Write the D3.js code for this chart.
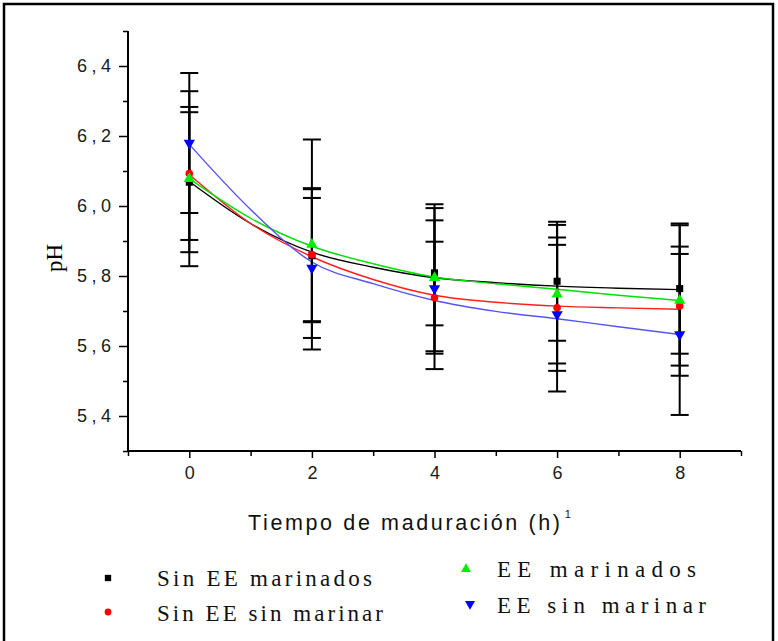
<!DOCTYPE html>
<html>
<head>
<meta charset="utf-8">
<script src="https://cdn.jsdelivr.net/npm/d3@7"></script>
<style>
  body { margin: 0; background: #fff; }
  svg { display: block; }
</style>
</head>
<body>
<svg class="chart"></svg>
<script>
// sampling times (h)
const TIMES = [0, 2, 4, 6, 8];
const X_TICKS = [0, 2, 4, 6, 8];
const Y_TICKS = [5.4, 5.6, 5.8, 6.0, 6.2, 6.4];
const Y_TICK_LABELS = ["5,4", "5,6", "5,8", "6,0", "6,2", "6,4"];

const SERIES_NAMES = ["Sin EE marinados", "Sin EE sin marinar", "EE marinados", "EE sin marinar"];

// means and standard deviations of pH
const meanSinEEMar = [6.068, 5.858, 5.809, 5.785, 5.764];
const sdSinEEMar = [0.200, 0.190, 0.150, 0.170, 0.186];
const meanSinEESin = [6.093, 5.861, 5.738, 5.709, 5.714];
const sdSinEESin = [0.190, 0.190, 0.160, 0.180, 0.170];
const meanEEMar = [6.078, 5.890, 5.795, 5.748, 5.730];
const sdEEMar = [0.250, 0.300, 0.210, 0.198, 0.215];
const meanEESin = [6.180, 5.823, 5.764, 5.690, 5.633];
const sdEESin = [0.200, 0.200, 0.230, 0.220, 0.230];

// fitted curves at each hour
const FIT_TIMES = [0, 1, 2, 3, 4, 5, 6, 7, 8];
const fitSinEEMar = [6.070, 5.950, 5.868, 5.825, 5.795, 5.781, 5.771, 5.765, 5.761];
const fitSinEESin = [6.090, 5.950, 5.855, 5.790, 5.745, 5.725, 5.714, 5.709, 5.705];
const fitEEMar = [6.078, 5.965, 5.885, 5.835, 5.797, 5.778, 5.762, 5.745, 5.730];
const fitEESin = [6.176, 5.990, 5.840, 5.778, 5.730, 5.699, 5.678, 5.655, 5.633];

const WIDTH = 778, HEIGHT = 641;

const svg = d3.select('.chart')
    .attr('width', WIDTH)
    .attr('height', HEIGHT);

svg.append('rect')
    .attr('x', 4).attr('y', 4)
    .attr('width', 769).attr('height', 660)
    .attr('fill', '#fff')
    .attr('stroke', '#000')
    .attr('stroke-width', 2.5);

var x = d3.scaleLinear().domain([-1, 9]).range([128, 741]);
var y = d3.scaleLinear().domain([5.3, 6.5]).range([451, 31]);

const series = [
    {name: SERIES_NAMES[0], mean: meanSinEEMar, sd: sdSinEEMar, fit: fitSinEEMar, color: '#000000', line: '#000000', sym: d3.symbolSquare, size: 50},
    {name: SERIES_NAMES[1], mean: meanSinEESin, sd: sdSinEESin, fit: fitSinEESin, color: '#ff0000', line: '#ff2020', sym: d3.symbolCircle, size: 45},
    {name: SERIES_NAMES[2], mean: meanEEMar, sd: sdEEMar, fit: fitEEMar, color: '#00ee00', line: '#00e000', sym: d3.symbolTriangle, size: 55},
    {name: SERIES_NAMES[3], mean: meanEESin, sd: sdEESin, fit: fitEESin, color: '#0000ff', line: '#5555ee', sym: d3.symbolTriangle, size: 55, flip: true}
];

// axes
var yMinor = d3.range(5.3, 6.55, 0.2).map(d => +d.toFixed(1));
svg.append('g')
    .attr('transform', 'translate(128,0)')
    .call(d3.axisLeft(y).tickValues(yMinor).tickSize(5).tickFormat(''))
    .call(g => g.select('.domain').remove())
    .selectAll('line').attr('stroke-width', 1.5);

var yAxis = svg.append('g')
    .attr('transform', 'translate(128,0)')
    .call(d3.axisLeft(y).tickValues(Y_TICKS).tickSize(9).tickPadding(8)
        .tickFormat((d, i) => Y_TICK_LABELS[i]));
yAxis.select('.domain').attr('d', 'M0,' + y(5.3) + 'V' + y(6.5)).attr('stroke-width', 2);
yAxis.selectAll('line').attr('stroke-width', 1.5);
yAxis.selectAll('text')
    .attr('font-family', 'Liberation Sans, Arial, sans-serif')
    .attr('font-size', 18)
    .attr('fill', '#1a1a1a')
    .attr('textLength', 34)
    .attr('lengthAdjust', 'spacing');

svg.append('g')
    .attr('transform', 'translate(0,451)')
    .call(d3.axisBottom(x).tickValues([-1, 1, 3, 5, 7, 9]).tickSize(5).tickFormat(''))
    .call(g => g.select('.domain').remove())
    .selectAll('line').attr('stroke-width', 1.5);

var xAxis = svg.append('g')
    .attr('transform', 'translate(0,451)')
    .call(d3.axisBottom(x).tickValues(X_TICKS).tickSize(7).tickPadding(8));
xAxis.select('.domain').attr('d', 'M' + x(-1) + ',0H' + x(9)).attr('stroke-width', 2);
xAxis.selectAll('line').attr('stroke-width', 1.5);
xAxis.selectAll('text')
    .attr('font-family', 'Liberation Sans, Arial, sans-serif')
    .attr('font-size', 18)
    .attr('fill', '#1a1a1a');

// titles
svg.append('text')
    .attr('transform', 'translate(62,258) rotate(-90)')
    .attr('text-anchor', 'middle')
    .attr('font-family', 'Liberation Serif, Times New Roman, serif')
    .attr('font-size', 23)
    .text('pH');

var xt = svg.append('text')
    .attr('x', 248).attr('y', 530)
    .attr('font-family', 'Liberation Sans, Arial, sans-serif')
    .attr('font-size', 21.5)
    .attr('fill', '#111');
xt.append('tspan').text('Tiempo de maduración (h)')
    .attr('textLength', 312).attr('lengthAdjust', 'spacing');
xt.append('tspan').text('1').attr('font-size', 11).attr('dx', 2).attr('dy', -12);

// fitted curves
var line = d3.line()
    .x((d, i) => x(FIT_TIMES[i]))
    .y(d => y(d))
    .curve(d3.curveMonotoneX);

svg.selectAll('.fit')
    .data(series)
    .enter()
    .append('path')
    .attr('class', 'fit')
    .attr('d', d => line(d.fit))
    .attr('fill', 'none')
    .attr('stroke', d => d.line)
    .attr('stroke-width', 1.4);

// error bars
series.forEach(s => {
    var g = svg.append('g').attr('stroke', '#000').attr('stroke-width', 2);
    TIMES.forEach((t, i) => {
        var hi = y(s.mean[i] + s.sd[i]), lo = y(s.mean[i] - s.sd[i]);
        g.append('line').attr('x1', x(t)).attr('x2', x(t)).attr('y1', hi).attr('y2', lo);
        g.append('line').attr('x1', x(t) - 9).attr('x2', x(t) + 9).attr('y1', hi).attr('y2', hi);
        g.append('line').attr('x1', x(t) - 9).attr('x2', x(t) + 9).attr('y1', lo).attr('y2', lo);
    });
});

// markers
series.forEach(s => {
    svg.append('g').selectAll('path')
        .data(s.mean)
        .enter()
        .append('path')
        .attr('d', d3.symbol().type(s.sym).size(s.size))
        .attr('transform', (d, i) => 'translate(' + x(TIMES[i]) + ',' + y(d) + ')' + (s.flip ? ' rotate(180)' : ''))
        .attr('fill', s.color);
});

// legend
const legendPos = [[108, 578, 157, 586], [108, 612, 157, 621], [466, 569, 497, 577], [470, 604, 497, 613]];
const legendWidth = [215, 226, 199, 209];
series.forEach((s, i) => {
    var p = legendPos[i];
    svg.append('path')
        .attr('d', d3.symbol().type(s.sym).size(s.size * 0.8))
        .attr('transform', 'translate(' + p[0] + ',' + p[1] + ')' + (s.flip ? ' rotate(180)' : ''))
        .attr('fill', s.color);
    svg.append('text')
        .attr('x', p[2]).attr('y', p[3])
        .attr('font-family', 'Liberation Serif, Times New Roman, serif')
        .attr('font-size', 23)
        .attr('fill', '#111')
        .attr('textLength', legendWidth[i])
        .attr('lengthAdjust', 'spacing')
        .text(s.name);
});
</script>
</body>
</html>
